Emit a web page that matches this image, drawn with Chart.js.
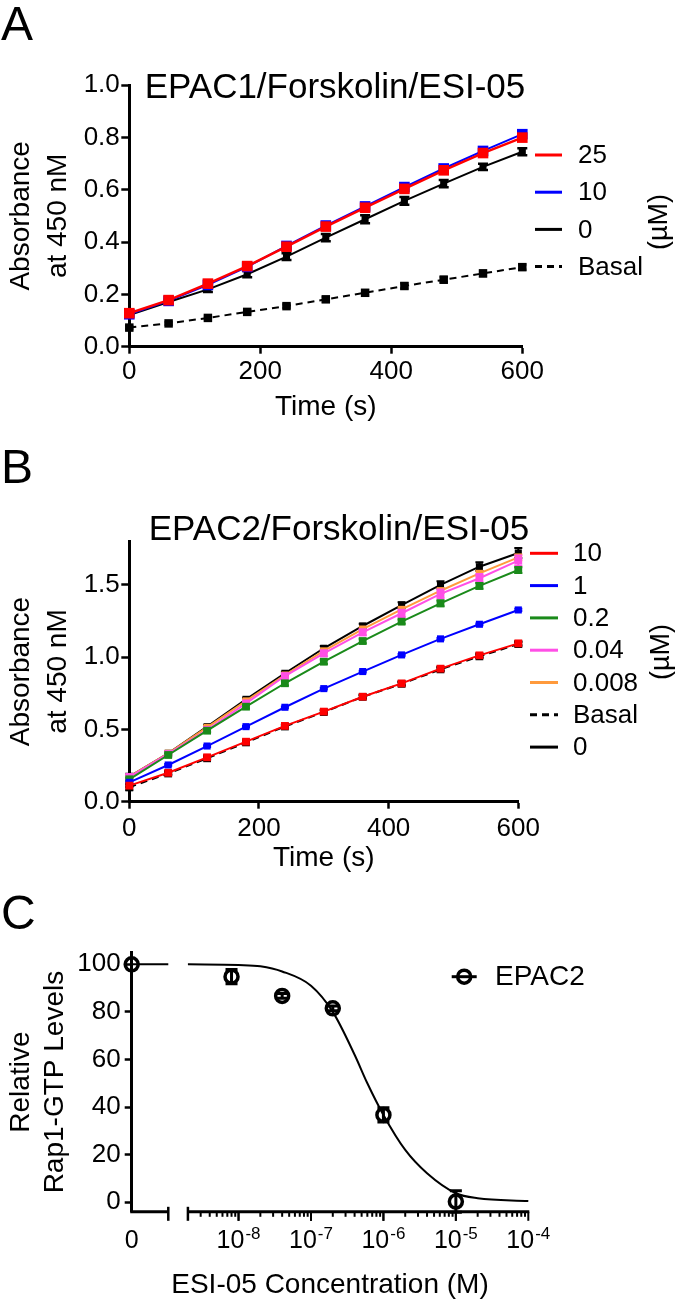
<!DOCTYPE html>
<html>
<head>
<meta charset="utf-8">
<script src="https://cdn.jsdelivr.net/npm/chart.js@4.4.1/dist/chart.umd.min.js"></script>
<style>
    html, body { margin: 0; padding: 0; background: #fff; }
    #wrap { position: relative; width: 675px; height: 1303px; }
    canvas { position: absolute; left: 0; }
</style>
</head>
<body>
<div id="wrap">
    <canvas id="chartA" width="675" height="440" style="top:0px"></canvas>
    <canvas id="chartB" width="675" height="440" style="top:440px"></canvas>
    <canvas id="chartC" width="675" height="423" style="top:880px"></canvas>
</div>
<script>
// ---- data ----
var TIME = [0, 60, 120, 180, 240, 300, 360, 420, 480, 540, 600];

// panel A, EPAC1 (ESI-05 in uM)
var A_LABELS = ['25', '10', '0', 'Basal'];
var A_25 = [0.128, 0.178, 0.241, 0.308, 0.382, 0.459, 0.531, 0.603, 0.674, 0.740, 0.799];
var A_10 = [0.124, 0.175, 0.236, 0.305, 0.385, 0.463, 0.536, 0.610, 0.681, 0.748, 0.812];
var A_0 = [0.121, 0.171, 0.219, 0.277, 0.344, 0.417, 0.487, 0.557, 0.623, 0.687, 0.745];
var A_BASAL = [0.073, 0.089, 0.110, 0.133, 0.155, 0.181, 0.206, 0.232, 0.256, 0.280, 0.304];
var A_ERR_25 = [0.004, 0.004, 0.004, 0.004, 0.004, 0.004, 0.004, 0.004, 0.004, 0.004, 0.004];
var A_ERR_10 = [0.004, 0.004, 0.004, 0.004, 0.004, 0.004, 0.004, 0.004, 0.004, 0.004, 0.004];
var A_ERR_0 = [0.005, 0.008, 0.010, 0.012, 0.013, 0.014, 0.015, 0.015, 0.014, 0.012, 0.013];
var A_ERR_BASAL = [0.005, 0.005, 0.005, 0.006, 0.006, 0.008, 0.010, 0.010, 0.010, 0.010, 0.010];

// panel B, EPAC2
var B_LABELS = ['10', '1', '0.2', '0.04', '0.008', 'Basal', '0'];
var B_10 = [0.111, 0.200, 0.307, 0.415, 0.524, 0.623, 0.726, 0.818, 0.920, 1.012, 1.095];
var B_1 = [0.134, 0.254, 0.385, 0.519, 0.653, 0.782, 0.900, 1.015, 1.126, 1.227, 1.326];
var B_02 = [0.155, 0.323, 0.491, 0.657, 0.819, 0.968, 1.111, 1.245, 1.372, 1.492, 1.602];
var B_004 = [0.170, 0.330, 0.497, 0.680, 0.869, 1.026, 1.171, 1.303, 1.437, 1.545, 1.667];
var B_0008 = [0.173, 0.335, 0.514, 0.697, 0.876, 1.043, 1.194, 1.330, 1.459, 1.579, 1.690];
var B_BASAL = [0.100, 0.195, 0.300, 0.410, 0.520, 0.620, 0.725, 0.815, 0.915, 1.005, 1.090];
var B_0 = [0.173, 0.335, 0.519, 0.708, 0.888, 1.061, 1.215, 1.360, 1.499, 1.625, 1.720];
var B_ERR_10 = [0.010, 0.010, 0.010, 0.010, 0.010, 0.010, 0.010, 0.012, 0.012, 0.012, 0.012];
var B_ERR_1 = [0.006, 0.006, 0.006, 0.006, 0.006, 0.006, 0.006, 0.006, 0.006, 0.006, 0.008];
var B_ERR_02 = [0.010, 0.010, 0.010, 0.012, 0.015, 0.015, 0.015, 0.015, 0.020, 0.020, 0.020];
var B_ERR_004 = [0.020, 0.010, 0.015, 0.015, 0.015, 0.020, 0.020, 0.025, 0.030, 0.030, 0.035];
var B_ERR_0008 = [0.010, 0.010, 0.010, 0.010, 0.010, 0.010, 0.010, 0.015, 0.015, 0.015, 0.020];
var B_ERR_BASAL = [0.020, 0.010, 0.010, 0.010, 0.010, 0.012, 0.012, 0.012, 0.012, 0.012, 0.015];
var B_ERR_0 = [0.020, 0.010, 0.010, 0.010, 0.010, 0.015, 0.015, 0.020, 0.025, 0.030, 0.035];

// panel C, dose response (M)
var C_CONC = [0, 8e-9, 4e-8, 2e-7, 1e-6, 1e-5];
var C_LEVEL = [100, 94.8, 86.7, 81.5, 36.7, 0.3];
var C_SEM = [0, 3, 1, 1, 3, 4.5];
var C_FIT_CONC = [2e-9, 1e-8, 2e-8, 4e-8, 1e-7, 2e-7, 4e-7, 6e-7, 1e-6, 2e-6, 4e-6, 1e-5, 2e-5, 1e-4];
var C_FIT_LEVEL = [100, 99.7, 99.2, 97, 91, 80, 62, 50, 36.7, 22, 12.2, 3.8, 1.7, 0.5];

var A_TICKS_X = [0, 200, 400, 600];
var A_TICKS_Y = [0, 0.2, 0.4, 0.6, 0.8, 1.0];
var B_TICKS_Y = [0, 0.5, 1.0, 1.5];
var C_TICKS_Y = [0, 20, 40, 60, 80, 100];
var C_DECADES = [-8, -7, -6, -5, -4];

// broken log axis of panel C, in log10 units
var ZERO_POS = -9.475;
var BREAK_LEFT = -8.97;
var BREAK_RIGHT = Math.log10(2e-9);
var X_MAX = -4;

var FONT = "'Liberation Sans', Arial, Helvetica, sans-serif";
Chart.defaults.font.family = FONT;
Chart.defaults.color = '#000';

function fixBox(size) {
    return function (scale) {
        if (scale.isHorizontal()) scale.height = size;
        else scale.width = size;
        scale.paddingLeft = 0;
        scale.paddingRight = 0;
        scale.paddingTop = 0;
        scale.paddingBottom = 0;
    };
}

function setTicks(values) {
    return function (scale) {
        scale.ticks = values.map(function (v) {
            return { value: v };
        });
    };
}

var errorBars = {
    id: 'errorBars',
    beforeDatasetDraw: function (chart, args) {
        var ds = chart.data.datasets[args.index];
        if (!ds.errors) return;
        var yScale = chart.scales.y;
        var ctx = chart.ctx;
        var cap = ds.capHalf || 5;
        ctx.save();
        ctx.strokeStyle = ds.errorColor || ds.borderColor;
        ctx.lineWidth = ds.errorWidth || 2;
        args.meta.data.forEach(function (pt, i) {
            var e = ds.errors[i];
            if (!e) return;
            var v = ds.data[i].y;
            var top = yScale.getPixelForValue(v + e);
            var bot = yScale.getPixelForValue(v - e);
            ctx.beginPath();
            ctx.moveTo(pt.x, top);
            ctx.lineTo(pt.x, bot);
            ctx.moveTo(pt.x - cap, top);
            ctx.lineTo(pt.x + cap, top);
            ctx.moveTo(pt.x - cap, bot);
            ctx.lineTo(pt.x + cap, bot);
            ctx.stroke();
        });
        ctx.restore();
    },
};

var panelDecor = {
    id: 'panelDecor',
    afterDraw: function (chart, args, o) {
        var ctx = chart.ctx;
        ctx.save();
        ctx.fillStyle = '#000';
        if (o.letter) {
            ctx.font = '48px ' + FONT;
            ctx.textAlign = 'left';
            ctx.textBaseline = 'alphabetic';
            ctx.fillText(o.letter.text, o.letter.x, o.letter.y);
        }
        if (o.title) {
            ctx.font = '35px ' + FONT;
            ctx.textAlign = 'center';
            ctx.textBaseline = 'alphabetic';
            ctx.fillText(o.title.text, o.title.x, o.title.y);
        }
        if (o.legend) {
            var L = o.legend;
            var items = chart.data.datasets.filter(function (ds) {
                return ds.inLegend !== false;
            });
            items.forEach(function (ds, i) {
                var y = L.y0 + L.dy * i;
                ctx.strokeStyle = ds.borderColor;
                ctx.lineWidth = 3;
                ctx.setLineDash(ds.borderDash ? [7, 5] : []);
                ctx.beginPath();
                ctx.moveTo(L.x1, y);
                ctx.lineTo(L.x2, y);
                ctx.stroke();
                ctx.setLineDash([]);
                if (ds.pointStyle === 'circle') {
                    ctx.beginPath();
                    ctx.arc((L.x1 + L.x2) / 2, y, ds.pointRadius, 0, Math.PI * 2);
                    ctx.lineWidth = ds.pointBorderWidth;
                    ctx.stroke();
                }
                ctx.font = L.size + 'px ' + FONT;
                ctx.textAlign = 'left';
                ctx.textBaseline = 'middle';
                ctx.fillText(ds.label, L.textX, y + 1);
            });
        }
        if (o.unit) {
            ctx.translate(o.unit.x, o.unit.y);
            ctx.rotate(-Math.PI / 2);
            ctx.font = '27px ' + FONT;
            ctx.textAlign = 'center';
            ctx.textBaseline = 'middle';
            ctx.fillText(o.unit.text, 0, 0);
        }
        ctx.restore();
    },
};

var breakAxis = {
    id: 'breakAxis',
    afterDraw: function (chart) {
        var xs = chart.scales.x;
        var ctx = chart.ctx;
        var y = chart.chartArea.bottom;
        function px(v) {
            return xs.getPixelForValue(v);
        }
        ctx.save();
        ctx.strokeStyle = '#000';
        ctx.lineWidth = 3;
        ctx.beginPath();
        ctx.moveTo(px(ZERO_POS) - 1.5, y);
        ctx.lineTo(px(BREAK_LEFT), y);
        ctx.moveTo(px(BREAK_RIGHT), y);
        ctx.lineTo(px(X_MAX) + 1, y);
        ctx.stroke();

        ctx.lineWidth = 2.5;
        [BREAK_LEFT, BREAK_RIGHT].forEach(function (v) {
            ctx.beginPath();
            ctx.moveTo(px(v), y - 5);
            ctx.lineTo(px(v), y + 9);
            ctx.stroke();
        });

        ctx.lineWidth = 2;
        for (var d = -9; d <= -5; d++) {
            for (var k = 1; k <= 10; k++) {
                var v = d + Math.log10(k);
                if (v < BREAK_RIGHT + 0.01 || v > X_MAX + 1e-9) continue;
                var len = (k === 1 || k === 10) ? 9 : 5;
                ctx.beginPath();
                ctx.moveTo(px(v), y);
                ctx.lineTo(px(v), y + len);
                ctx.stroke();
            }
        }

        ctx.fillStyle = '#000';
        ctx.textBaseline = 'alphabetic';
        ctx.textAlign = 'left';
        var base = y + 36;
        ctx.font = '25px ' + FONT;
        var w0 = ctx.measureText('0').width;
        ctx.fillText('0', px(ZERO_POS) - w0 / 2, base);
        C_DECADES.forEach(function (dec) {
            ctx.font = '25px ' + FONT;
            var w10 = ctx.measureText('10').width;
            ctx.font = '17px ' + FONT;
            var sup = String(dec);
            var ws = ctx.measureText(sup).width;
            var x0 = px(dec) - (w10 + ws + 1) / 2;
            ctx.font = '25px ' + FONT;
            ctx.fillText('10', x0, base);
            ctx.font = '17px ' + FONT;
            ctx.fillText(sup, x0 + w10 + 1, base - 9);
        });
        ctx.restore();
    },
};

function timeSeries(label, values, errors, color, extra) {
    var ds = {
        label: label,
        data: TIME.map(function (t, i) {
            return { x: t, y: values[i] };
        }),
        errors: errors,
        borderColor: color,
        backgroundColor: color,
        pointBackgroundColor: color,
        pointBorderWidth: 0,
        pointStyle: 'rect',
        pointRadius: 5,
        borderWidth: 2,
        tension: 0,
        fill: false,
        clip: false,
        capHalf: 4,
    };
    Object.keys(extra || {}).forEach(function (k) {
        ds[k] = extra[k];
    });
    return ds;
}

function axisStyle() {
    return {
        border: { color: '#000', width: 3 },
        grid: { drawOnChartArea: false, tickLength: 7, tickWidth: 2.5, tickColor: '#000' },
    };
}

function timeChart(id, datasets, cfg) {
    var ax = axisStyle();
    return new Chart(document.getElementById(id), {
        type: 'line',
        data: { datasets: datasets },
        plugins: [errorBars, panelDecor],
        options: {
            responsive: false,
            animation: false,
            devicePixelRatio: 1,
            events: [],
            layout: { padding: cfg.padding },
            plugins: {
                legend: { display: false },
                tooltip: { enabled: false },
                panelDecor: cfg.decor,
            },
            scales: {
                x: {
                    type: 'linear',
                    min: 0,
                    max: 600,
                    afterBuildTicks: setTicks(A_TICKS_X),
                    afterFit: fixBox(cfg.xHeight),
                    border: ax.border,
                    grid: ax.grid,
                    ticks: { font: { size: 26 }, padding: cfg.xTickPad, maxRotation: 0, autoSkip: false },
                    title: { display: true, text: 'Time (s)', font: { size: 28 }, padding: { top: 0, bottom: cfg.xTitlePad } },
                },
                y: {
                    type: 'linear',
                    min: 0,
                    max: cfg.yMax,
                    afterBuildTicks: setTicks(cfg.yTicks),
                    afterFit: fixBox(129.3),
                    border: ax.border,
                    grid: { drawOnChartArea: false, tickLength: 8, tickWidth: 2.5, tickColor: '#000' },
                    ticks: {
                        font: { size: 26 },
                        padding: 1.5,
                        autoSkip: false,
                        callback: function (v) {
                            return v.toFixed(1);
                        },
                    },
                    title: {
                        display: true,
                        text: ['Absorbance', 'at 450 nM'],
                        font: { size: 28, lineHeight: 1.3 },
                        padding: { top: 3.5, bottom: 0 },
                    },
                },
            },
        },
    });
}

// ---- panel A ----
timeChart('chartA', [
    timeSeries(A_LABELS[0], A_25, A_ERR_25, '#ff0000', { pointRadius: 7.5, borderWidth: 2.5 }),
    timeSeries(A_LABELS[1], A_10, A_ERR_10, '#0000ff', { pointRadius: 7.5 }),
    timeSeries(A_LABELS[2], A_0, A_ERR_0, '#000000', { pointRadius: 5, capHalf: 5, errorWidth: 2.5 }),
    timeSeries(A_LABELS[3], A_BASAL, A_ERR_BASAL, '#000000', { pointRadius: 6, borderDash: [7, 5], capHalf: 4, errorWidth: 2.5 }),
], {
    padding: { top: 85, right: 152.7, bottom: 13.3, left: 0 },
    xHeight: 80,
    xTickPad: 3,
    xTitlePad: 2.9,
    yMax: 1.0,
    yTicks: A_TICKS_Y,
    decor: {
        letter: { text: 'A', x: 1, y: 40 },
        title: { text: 'EPAC1/Forskolin/ESI-05', x: 335, y: 97.5 },
        legend: { x1: 535, x2: 562, textX: 578, y0: 155, dy: 37.2, size: 26 },
        unit: { text: '(\u00b5M)', x: 660, y: 222 },
    },
});

// ---- panel B ----
timeChart('chartB', [
    timeSeries(B_LABELS[0], B_10, B_ERR_10, '#ff0000', { errorColor: '#000', pointRadius: 5.5 }),
    timeSeries(B_LABELS[1], B_1, B_ERR_1, '#0000ff'),
    timeSeries(B_LABELS[2], B_02, B_ERR_02, '#1a8a1a', { pointRadius: 5.5 }),
    timeSeries(B_LABELS[3], B_004, B_ERR_004, '#ff4fe6', { pointRadius: 5.5 }),
    timeSeries(B_LABELS[4], B_0008, B_ERR_0008, '#ff9a3c'),
    timeSeries(B_LABELS[5], B_BASAL, B_ERR_BASAL, '#000000', { borderDash: [7, 5], pointRadius: 5.5 }),
    timeSeries(B_LABELS[6], B_0, B_ERR_0, '#000000'),
], {
    padding: { top: 101.4, right: 156.7, bottom: 0.3, left: 0 },
    xHeight: 78,
    xTickPad: 5,
    xTitlePad: 4.9,
    yMax: 1.8,
    yTicks: B_TICKS_Y,
    decor: {
        letter: { text: 'B', x: 1, y: 43 },
        title: { text: 'EPAC2/Forskolin/ESI-05', x: 339, y: 100 },
        legend: { x1: 530, x2: 558, textX: 573, y0: 113.3, dy: 32.3, size: 26 },
        unit: { text: '(\u00b5M)', x: 662, y: 212 },
    },
});

// ---- panel C ----
var cPoints = C_CONC.map(function (c, i) {
    return { x: c === 0 ? ZERO_POS : Math.log10(c), y: C_LEVEL[i] };
});
var cFit = C_FIT_CONC.map(function (c, i) {
    return { x: Math.log10(c), y: C_FIT_LEVEL[i] };
});
var cFitZero = [
    { x: ZERO_POS, y: C_FIT_LEVEL[0] },
    { x: BREAK_LEFT, y: C_FIT_LEVEL[0] },
];

var axC = axisStyle();
new Chart(document.getElementById('chartC'), {
    type: 'line',
    data: {
        datasets: [
            {
                label: 'EPAC2',
                data: cPoints,
                errors: C_SEM,
                errorColor: '#000',
                errorWidth: 3,
                capHalf: 6,
                showLine: false,
                borderColor: '#000',
                pointStyle: 'circle',
                pointRadius: 6.5,
                pointBorderWidth: 3.5,
                pointBorderColor: '#000',
                pointBackgroundColor: 'rgba(0,0,0,0)',
                clip: false,
            },
            {
                label: 'fit',
                inLegend: false,
                data: cFit,
                borderColor: '#000',
                borderWidth: 2,
                pointRadius: 0,
                cubicInterpolationMode: 'monotone',
                clip: false,
            },
            {
                label: 'fit0',
                inLegend: false,
                data: cFitZero,
                borderColor: '#000',
                borderWidth: 2,
                pointRadius: 0,
                clip: false,
            },
        ],
    },
    plugins: [errorBars, panelDecor, breakAxis],
    options: {
        responsive: false,
        animation: false,
        devicePixelRatio: 1,
        events: [],
        layout: { padding: { top: 72.4, right: 146.7, bottom: 0, left: 0 } },
        plugins: {
            legend: { display: false },
            tooltip: { enabled: false },
            panelDecor: {
                letter: { text: 'C', x: 1, y: 49 },
                legend: { x1: 451.7, x2: 476.7, textX: 495, y0: 96.7, dy: 0, size: 28 },
            },
        },
        scales: {
            x: {
                type: 'linear',
                min: ZERO_POS,
                max: X_MAX,
                afterFit: fixBox(91.2),
                border: { display: false },
                grid: { display: false },
                ticks: { display: false },
                title: { display: true, text: 'ESI-05 Concentration (M)', font: { size: 28 }, padding: { top: 0, bottom: 1.2 } },
            },
            y: {
                type: 'linear',
                min: -4,
                max: 105,
                afterBuildTicks: setTicks(C_TICKS_Y),
                afterFit: fixBox(131.7),
                border: axC.border,
                grid: axC.grid,
                ticks: { font: { size: 26 }, padding: 4, autoSkip: false },
                title: {
                    display: true,
                    text: ['Relative', 'Rap1-GTP Levels'],
                    font: { size: 28, lineHeight: 1.2 },
                    padding: { top: 4.9, bottom: 0 },
                },
            },
        },
    },
});
</script>
</body>
</html>
